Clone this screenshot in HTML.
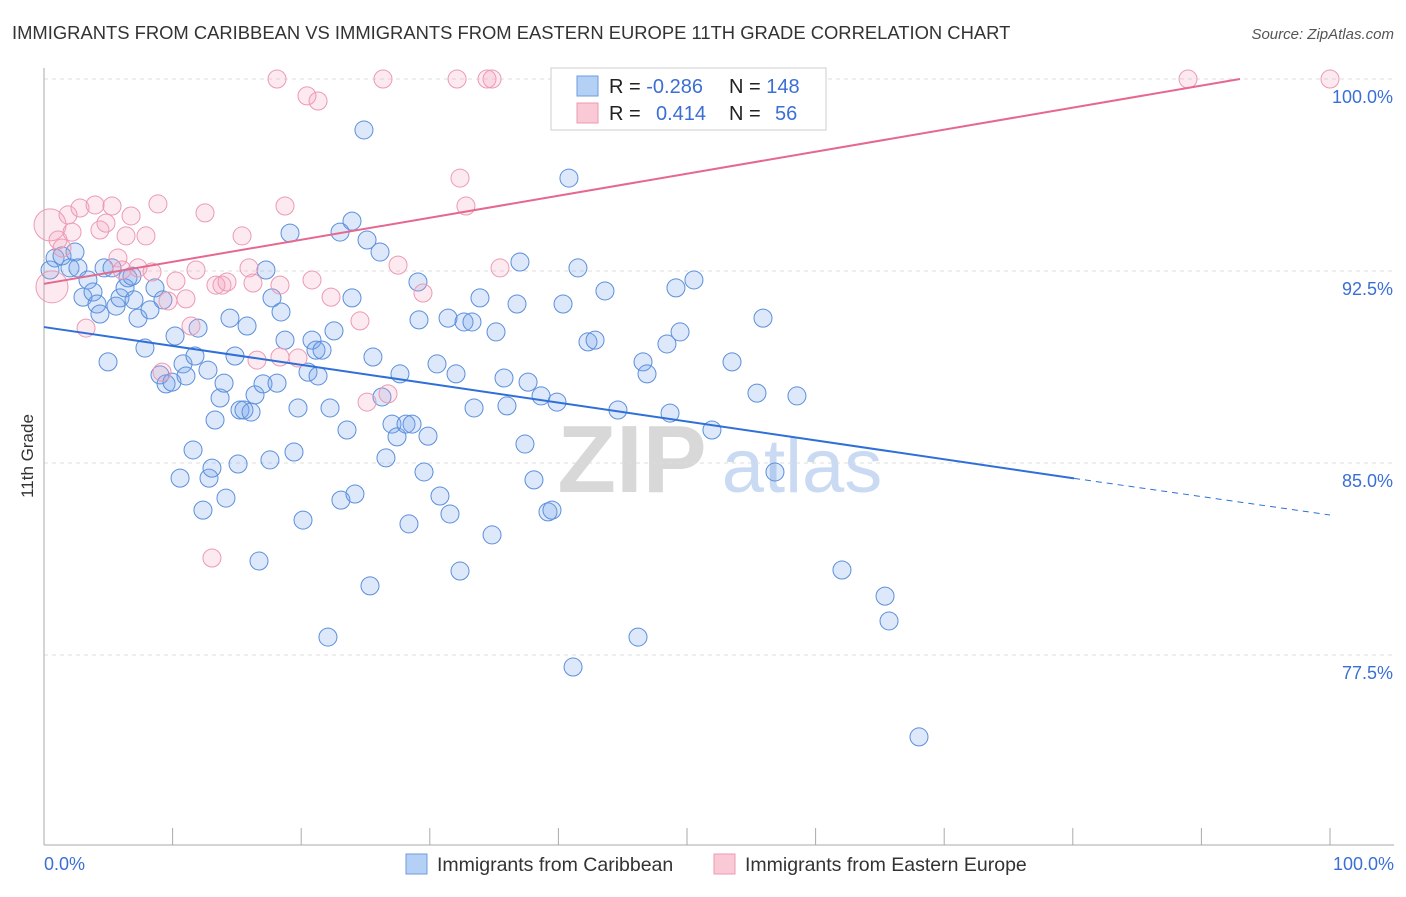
<!DOCTYPE html>
<html><head><meta charset="utf-8"><style>
body{margin:0;background:#fff;font-family:"Liberation Sans",sans-serif;}
svg text{font-family:"Liberation Sans",sans-serif;}
</style></head><body>
<svg id="chart" width="1406" height="892" xmlns="http://www.w3.org/2000/svg">
<text x="12" y="39" font-size="18.4" fill="#333">IMMIGRANTS FROM CARIBBEAN VS IMMIGRANTS FROM EASTERN EUROPE 11TH GRADE CORRELATION CHART</text>
<text x="1394" y="39" font-size="15" fill="#555" text-anchor="end" font-style="italic">Source: ZipAtlas.com</text>
<g>
<text x="632" y="492" font-size="96" fill="#d8d8d8" text-anchor="middle" font-family="Liberation Serif" font-weight="bold">ZIP</text>
<text x="802" y="492" font-size="76" fill="#c9daf2" text-anchor="middle">atlas</text>
</g>
<g id="grid"></g>
<g id="axes"></g>
<g id="pts"></g>
<g id="lines"></g>
<text transform="translate(33,456) rotate(-90)" font-size="17" fill="#333" text-anchor="middle">11th Grade</text>
<text x="44" y="870" font-size="18" fill="#3b6fd4">0.0%</text>
<text x="1394" y="870" font-size="18" fill="#3b6fd4" text-anchor="end">100.0%</text>
<g>
<rect x="551" y="68" width="275" height="62" fill="#fff" stroke="#ccc"/>
<rect x="577" y="76" width="21" height="20" fill="#b5d0f5" stroke="#6d9be0"/>
<rect x="577" y="103" width="21" height="20" fill="#f9c9d6" stroke="#ec9ab2"/>
<text x="609" y="93" font-size="20" fill="#222">R = <tspan fill="#3b6fd4">-0.286</tspan></text>
<text x="729" y="93" font-size="20" fill="#222">N = <tspan fill="#3b6fd4">148</tspan></text>
<text x="609" y="120" font-size="20" fill="#222">R = <tspan fill="#3b6fd4" x="656">0.414</tspan></text>
<text x="729" y="120" font-size="20" fill="#222">N = <tspan fill="#3b6fd4" x="775">56</tspan></text>
</g>
<g>
<rect x="406" y="854" width="21" height="20" fill="#b5d0f5" stroke="#6d9be0"/>
<text x="437" y="871" font-size="19.5" fill="#333">Immigrants from Caribbean</text>
</g>
<g>
<rect x="714" y="854" width="21" height="20" fill="#f9c9d6" stroke="#ec9ab2"/>
<text x="745" y="871" font-size="19.5" fill="#333">Immigrants from Eastern Europe</text>
</g>
</svg>
<script>
const yTicks=[100,92.5,85,77.5];
const yTickLabels=["100.0%","92.5%","85.0%","77.5%"];
const xTicks=[0,10,20,30,40,50,60,70,80,90,100];
const blueX=[0.47,0.86,1.40,2.02,2.41,2.64,3.42,3.03,3.81,4.12,4.35,4.67,4.98,5.29,5.60,5.91,6.30,6.53,6.84,7.00,7.31,7.85,8.24,8.63,9.02,9.25,9.49,9.95,10.19,10.58,10.81,11.04,11.59,11.74,11.98,12.36,12.75,12.83,13.06,13.30,13.69,14.00,14.15,14.46,14.85,15.09,15.24,15.55,15.79,16.10,16.41,16.72,17.03,17.26,17.57,17.73,18.12,18.43,18.74,19.13,19.44,19.75,20.14,20.53,20.84,21.15,21.31,21.62,22.08,22.24,22.55,23.02,23.09,23.95,23.56,23.95,24.18,24.88,25.12,25.35,25.58,26.13,26.28,26.59,27.06,27.45,27.68,28.15,28.38,28.62,29.08,29.16,29.55,29.86,30.56,30.79,31.42,31.57,32.04,32.35,32.66,33.28,33.44,33.90,34.84,35.15,35.77,36.00,36.78,37.01,37.40,37.64,38.10,38.65,39.19,39.50,39.89,40.36,40.82,41.14,41.52,42.30,42.85,43.62,44.63,46.19,46.58,46.89,48.44,48.68,49.14,49.46,50.54,51.94,53.50,54.51,55.44,55.91,56.84,57.47,58.55,62.05,65.40,65.71,68.04];
const blueY=[92.54,93.01,93.09,92.62,93.24,92.62,92.15,91.48,91.68,91.21,90.82,92.62,88.95,92.62,91.13,91.45,91.84,92.23,92.30,91.37,90.66,89.49,90.98,91.84,88.44,91.37,88.09,88.16,89.96,84.41,88.87,88.40,85.51,89.18,90.27,83.16,88.63,84.41,84.80,86.68,87.54,88.12,83.63,90.66,89.18,84.96,87.07,87.07,90.35,86.99,87.66,81.17,88.09,92.54,85.12,91.45,88.12,90.90,89.80,93.98,85.43,87.15,82.77,88.55,89.80,89.41,88.40,89.41,78.20,87.15,90.16,94.02,83.55,94.45,86.29,91.45,83.79,98.01,93.71,80.20,89.14,93.24,87.58,85.20,86.52,86.02,88.48,86.52,82.62,86.52,92.07,90.59,84.65,86.05,88.87,83.71,90.66,83.01,88.48,80.78,90.51,90.51,87.15,91.45,82.19,90.12,88.32,87.23,91.21,92.85,85.74,88.16,84.34,87.62,83.09,83.16,87.38,91.21,96.13,77.03,92.62,89.73,89.80,91.72,87.07,78.20,88.95,88.48,89.65,86.95,91.84,90.12,92.15,86.29,88.95,100,87.73,90.66,84.65,100,87.62,80.82,79.80,78.83,74.30];
const pinkX=[0.47,0.62,1.09,1.40,1.87,2.18,2.80,3.27,3.97,4.35,4.82,5.29,5.75,6.07,6.38,6.77,7.31,7.93,8.40,8.86,9.18,9.64,10.26,11.04,11.43,11.82,12.52,13.06,13.37,13.84,14.23,15.40,15.94,16.25,16.56,18.35,18.12,18.35,18.74,19.75,20.45,20.84,21.31,22.32,24.57,25.12,26.36,26.75,27.53,29.47,32.12,32.35,32.81,34.45,34.84,35.46,88.96,100];
const pinkY=[94.30,91.88,93.71,93.40,94.69,94.02,94.96,90.27,95.08,94.10,94.37,95.04,93.01,92.54,93.87,94.65,92.62,93.87,92.46,95.12,88.55,91.33,92.11,91.41,90.35,92.54,94.77,81.29,91.95,91.95,92.07,93.87,92.62,92.03,89.02,89.14,100,91.95,95.04,89.10,99.34,92.15,99.14,91.48,90.55,87.38,100,87.70,92.73,91.64,100,96.13,95.04,100,100,92.62,100,100];
const blueTrend=[90.31,84.40,82.97];
const blueTrendX=[0,80.1,100];
const pinkTrend=[92.0,100];
const pinkTrendX=[0,93];
const X=v=>44+v*12.86, Y=v=>79+(100-v)*25.6;
const NS="http://www.w3.org/2000/svg";
function mk(tag,attrs,parent){const e=document.createElementNS(NS,tag);for(const k in attrs)e.setAttribute(k,attrs[k]);parent.appendChild(e);return e;}
const grid=document.getElementById('grid'),axes=document.getElementById('axes'),pts=document.getElementById('pts'),lines=document.getElementById('lines');
yTicks.forEach((t,i)=>{
 const l=mk('line',{x1:44,x2:1394,y1:Y(t),y2:Y(t),stroke:'#ddd','stroke-dasharray':'4,4'},grid);
 
 
 const tx=mk('text',{x:1393,y:Y(t)+24,'font-size':18,fill:'#3b6fd4','text-anchor':'end'},grid);
 tx.textContent=yTickLabels[i];
 
 
});
const ax=mk('line',{x1:44,x2:1394,y1:845,y2:845,stroke:'#aaa'},axes);


const ay=mk('line',{x1:44,x2:44,y1:68,y2:845,stroke:'#aaa'},axes);


xTicks.forEach(t=>{
 const l=mk('line',{x1:X(t),x2:X(t),y1:828,y2:845,stroke:'#aaa'},axes);
 
 
});
blueX.forEach((x,i)=>{
 const c=mk('circle',{cx:X(x),cy:Y(blueY[i]),r:9,fill:'rgba(120,165,235,0.25)',stroke:'#5b8fdc','stroke-width':1},pts);
 
 
});
pinkX.forEach((x,i)=>{
 const c=mk('circle',{cx:X(x),cy:Y(pinkY[i]),r:i<2?16:9,fill:'rgba(245,160,185,0.22)',stroke:'#ec9ab2','stroke-width':1},pts);
 
 
});
const bl=mk('line',{x1:X(blueTrendX[0]),y1:Y(blueTrend[0]),x2:X(blueTrendX[1]),y2:Y(blueTrend[1]),stroke:'#2f6fd8','stroke-width':2},lines);


const bd=mk('line',{x1:X(blueTrendX[1]),y1:Y(blueTrend[1]),x2:X(blueTrendX[2]),y2:Y(blueTrend[2]),stroke:'#2f6fd8','stroke-width':1,'stroke-dasharray':'6,5'},lines);


const pl=mk('line',{x1:X(pinkTrendX[0]),y1:Y(pinkTrend[0]),x2:X(pinkTrendX[1]),y2:Y(pinkTrend[1]),stroke:'#e5688f','stroke-width':2},lines);


</script>
</body></html>
